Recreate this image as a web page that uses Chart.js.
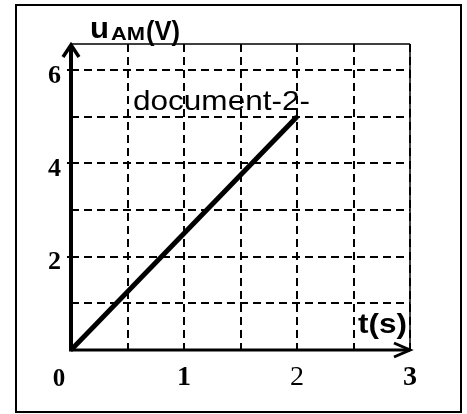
<!DOCTYPE html>
<html>
<head>
<meta charset="utf-8">
<script src="https://cdn.jsdelivr.net/npm/chart.js@4/dist/chart.umd.min.js"></script>
<style>
  html, body { margin: 0; padding: 0; background: #fff; }
  canvas { display: block; }
</style>
</head>
<body>
<canvas id="c" width="467" height="414"></canvas>
<script>
// ---- data ----
const tValues = [0, 2];          // t (s)
const uValues = [0, 5];          // u_AM (V)
const xGridValues = [0, 0.5, 1, 1.5, 2, 2.5, 3];
const yGridValues = [0, 1, 2, 3, 4, 5, 6];
const xTickValues = [1, 2, 3];
const xTickLabels = ['1', '2', '3'];
const yTickValues = [2, 4, 6];
const yTickLabels = ['2', '4', '6'];
const originLabel = '0';
const yTitleMain = 'u';
const yTitleSub = 'AM';
const yTitleUnit = '(V)';
const xTitle = 't(s)';
const noteText = 'document-2-';

const points = tValues.map((t, i) => ({ x: t, y: uValues[i] }));

function xLabel(v) { const i = xTickValues.indexOf(v); return i >= 0 ? xTickLabels[i] : ''; }
function yLabel(v) { const i = yTickValues.indexOf(v); return i >= 0 ? yTickLabels[i] : ''; }

function stretchText(ctx, text, x, y, width) {
  const w = ctx.measureText(text).width;
  const s = width / w;
  ctx.save();
  ctx.translate(x, y);
  ctx.scale(s, 1);
  ctx.fillText(text, 0, 0);
  ctx.restore();
}

const decor = {
  id: 'decor',
  afterDatasetsDraw(chart) {
    const ctx = chart.ctx;
    const xs = chart.scales.x, ys = chart.scales.y;
    const L = xs.getPixelForValue(0), R = xs.getPixelForValue(3);
    const B = ys.getPixelForValue(0), T = chart.chartArea.top;
    ctx.save();
    ctx.strokeStyle = '#000';
    ctx.lineCap = 'butt';
    // top and right borders (thin, solid)
    ctx.lineWidth = 1.5;
    ctx.beginPath();
    ctx.moveTo(L, T); ctx.lineTo(R, T);
    ctx.moveTo(R, T); ctx.lineTo(R, B);
    ctx.stroke();
    // x axis
    ctx.lineWidth = 3;
    ctx.beginPath();
    ctx.moveTo(L, B); ctx.lineTo(R, B);
    ctx.stroke();
    ctx.beginPath();
    ctx.lineJoin = 'miter';
    ctx.moveTo(R - 16, B - 7); ctx.lineTo(R, B); ctx.lineTo(R - 16, B + 7);
    ctx.stroke();
    // y axis
    ctx.lineWidth = 4;
    ctx.beginPath();
    ctx.moveTo(L, B + 1.5); ctx.lineTo(L, T + 2);
    ctx.stroke();
    ctx.lineWidth = 3.5;
    ctx.beginPath();
    ctx.moveTo(L - 8, T + 13); ctx.lineTo(L, T + 1); ctx.lineTo(L + 8, T + 13);
    ctx.stroke();
    // outer frame
    ctx.lineWidth = 2;
    ctx.strokeRect(16, 5, 445, 407);

    // texts
    ctx.fillStyle = '#000';
    ctx.textBaseline = 'alphabetic';
    ctx.textAlign = 'left';
    ctx.font = 'bold 25px "Liberation Serif"';
    ctx.textAlign = 'center';
    ctx.fillText(originLabel, L - 12, 386);
    ctx.textAlign = 'left';
    // y title
    ctx.font = 'bold 29px "Liberation Sans"';
    stretchText(ctx, yTitleMain, 90, 38, 19);
    ctx.font = 'bold 18px "Liberation Sans"';
    stretchText(ctx, yTitleSub, 111, 40, 34);
    ctx.font = 'bold 28px "Liberation Sans"';
    stretchText(ctx, yTitleUnit, 146, 40, 34);
    // x title
    stretchText(ctx, xTitle, 358, 333, 49);
    // note
    ctx.font = '28px "Liberation Sans"';
    stretchText(ctx, noteText, 133, 110, 177);
    ctx.restore();
  }
};

new Chart(document.getElementById('c'), {
  type: 'line',
  data: {
    datasets: [{
      data: points,
      borderColor: '#000',
      borderWidth: 5,
      pointRadius: 0,
      tension: 0,
      fill: false
    }]
  },
  options: {
    responsive: false,
    animation: false,
    devicePixelRatio: 1,
    plugins: { legend: { display: false }, tooltip: { enabled: false } },
    layout: { padding: { top: 44, right: 57, left: 0, bottom: 0 } },
    scales: {
      x: {
        type: 'linear',
        min: 0, max: 3,
        afterFit(s) { s.height = 64; },
        afterBuildTicks(s) { s.ticks = xGridValues.map(v => ({ value: v })); },
        ticks: {
          autoSkip: false,
          maxRotation: 0,
          padding: 11,
          color: '#000',
          font: (c) => ({ family: '"Liberation Serif"', size: 28, weight: (c.tick && c.tick.value === 2) ? 'normal' : 'bold' }),
          callback: (v) => xLabel(v)
        },
        grid: { color: '#000', lineWidth: 2, drawTicks: false },
        border: { display: false, dash: [8, 5] }
      },
      y: {
        type: 'linear',
        min: 0, max: 6.56,
        afterFit(s) { s.width = 71; },
        afterBuildTicks(s) { s.ticks = yGridValues.map(v => ({ value: v })); },
        ticks: {
          autoSkip: false,
          padding: 6,
          labelOffset: 6,
          color: '#000',
          font: { family: '"Liberation Serif"', size: 26, weight: 'bold' },
          callback: (v) => yLabel(v)
        },
        grid: {
          color: '#000', lineWidth: 2, drawTicks: true, tickLength: 4,
          tickColor: (c) => (c.tick && yLabel(c.tick.value)) ? '#000' : 'rgba(0,0,0,0)'
        },
        border: { display: false, dash: [8, 5] }
      }
    }
  },
  plugins: [decor]
});
</script>
</body>
</html>
